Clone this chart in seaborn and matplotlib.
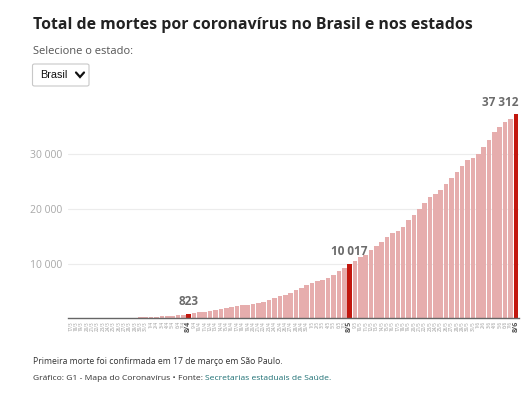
import matplotlib
matplotlib.use("Agg")
import matplotlib.pyplot as plt
import seaborn as sns
import pandas as pd
from matplotlib.patches import FancyBboxPatch
from matplotlib.lines import Line2D

# ---- data ----
march = [f"{d}/3" for d in range(17, 32)]
april = [f"{d}/4" for d in range(1, 31)]
may = [f"{d}/5" for d in range(1, 32)]
june = [f"{d}/6" for d in range(1, 9)]
dates = march + april + may + june

deaths = [
    1, 4, 7, 11, 18, 25, 34, 47, 59, 77, 93, 114, 136, 159, 201,
    241, 324, 360, 445, 486, 566, 686, 823, 1060, 1140, 1200, 1330, 1540,
    1740, 1950, 2150, 2220, 2360, 2480, 2600, 2760, 2900, 3340, 3720, 4080,
    4300, 4620, 5100, 5530, 6030,
    6430, 6780, 7080, 7390, 7950, 8560, 9200, 10017, 10490, 11160, 11650,
    12500, 13290, 14020, 14880, 15550, 15980, 16770, 17990, 18900, 20060,
    21100, 22150, 22700, 23500, 24600, 25700, 26750, 27900, 28850, 29350,
    29950, 31250, 32600, 34050, 35060, 35950, 36500, 37312,
]
highlight_dates = ["8/4", "8/5", "8/6"]
highlight_labels = ["823", "10 017", "37 312"]
ytick_values = [10000, 20000, 30000]
ytick_labels = ["10 000", "20 000", "30 000"]

title = "Total de mortes por coronavírus no Brasil e nos estados"
subtitle = "Selecione o estado:"
dropdown = "Brasil"
note = "Primeira morte foi confirmada em 17 de março em São Paulo."
credit = "Gráfico: G1 - Mapa do Coronavírus • Fonte: "
source = "Secretarias estaduais de Saúde."

LIGHT = "#e6adad"
RED = "#c2170e"

df = pd.DataFrame({"date": dates, "deaths": deaths})
palette = {d: (RED if d in highlight_dates else LIGHT) for d in dates}

sns.set_theme(style="white")
plt.rcParams["font.family"] = ["Open Sans", "DejaVu Sans"]

W, H = 531, 393
fig = plt.figure(figsize=(W / 100, H / 100), dpi=100)
fig.patch.set_facecolor("white")

def fx(x):
    return x / W

def fy(y):
    return 1 - y / H

ax_left, ax_right = 68, 518.5
ax_bottom_px, ax_top_px = 318.3, 99.5
ax = fig.add_axes([fx(ax_left), fy(ax_bottom_px), (ax_right - ax_left) / W,
                   (ax_bottom_px - ax_top_px) / H])

sns.barplot(data=df, x="date", y="deaths", hue="date", palette=palette,
            legend=False, width=0.86, ax=ax, saturation=1, order=dates,
            linewidth=0)

ax.set_xlim(-0.5, len(dates) - 0.5)
ax.set_ylim(0, 40000)
ax.set_xlabel("")
ax.set_ylabel("")
for s in ["top", "right", "left"]:
    ax.spines[s].set_visible(False)
ax.spines["bottom"].set_color("#666666")
ax.spines["bottom"].set_linewidth(1.0)

ax.set_yticks(ytick_values)
ax.set_yticklabels(ytick_labels, color="#a8a8a8", fontsize=7.5)
ax.yaxis.grid(True, color="#ececec", linewidth=0.8)
ax.set_axisbelow(True)
ax.tick_params(axis="y", length=0, pad=4)

ax.set_xticks(range(len(dates)))
ax.set_xticklabels(dates, rotation=90)
ax.tick_params(axis="x", length=0, pad=2)
for lbl in ax.get_xticklabels():
    if lbl.get_text() in highlight_dates:
        lbl.set_fontsize(5.2)
        lbl.set_fontweight("bold")
        lbl.set_color("#555555")
    else:
        lbl.set_fontsize(3.3)
        lbl.set_color("#9a9a9a")

# value labels
for d, txt in zip(highlight_dates, highlight_labels):
    i = dates.index(d)
    ha = "center"
    xpos = i
    if i == len(dates) - 1:
        ha = "right"
        xpos = i + 0.45
    ax.annotate(txt, (xpos, deaths[i]), xytext=(0, 4), textcoords="offset points",
                ha=ha, va="bottom", fontsize=8.5, fontweight="bold", color="#6b6b6b")

# title & header
fig.text(fx(33), fy(25), title, fontsize=11.4, fontweight="bold", color="#222222",
         va="center", ha="left")
fig.text(fx(33), fy(51), subtitle, fontsize=8.0, color="#555555", va="center", ha="left")

box = FancyBboxPatch((fx(32.5), fy(86)), fx(89) - fx(32.5), fy(64) - fy(86),
                     boxstyle="round,pad=0,rounding_size=0.004",
                     transform=fig.transFigure, facecolor="white",
                     edgecolor="#c8c8c8", linewidth=0.8)
fig.patches.append(box)
fig.text(fx(40), fy(75.5), dropdown, fontsize=7.8, color="#111111", va="center", ha="left",
         family=["Liberation Sans", "DejaVu Sans"])
fig.lines.append(Line2D([fx(76), fx(80), fx(84)], [fy(72.5), fy(77), fy(72.5)],
                        transform=fig.transFigure, color="#111111", linewidth=1.6,
                        solid_capstyle="round", solid_joinstyle="miter"))

# footer
fig.text(fx(33), fy(361), note, fontsize=6.2, color="#333333", va="center", ha="left")
t1 = fig.text(fx(33), fy(378), credit, fontsize=6.1, color="#333333", va="center", ha="left")
fig.canvas.draw()
bb = t1.get_window_extent(renderer=fig.canvas.get_renderer())
fig.text(bb.x1 / W, fy(378), source, fontsize=6.1, color="#1d6f73", va="center", ha="left")

fig.savefig("out.png", dpi=100, facecolor="white")
